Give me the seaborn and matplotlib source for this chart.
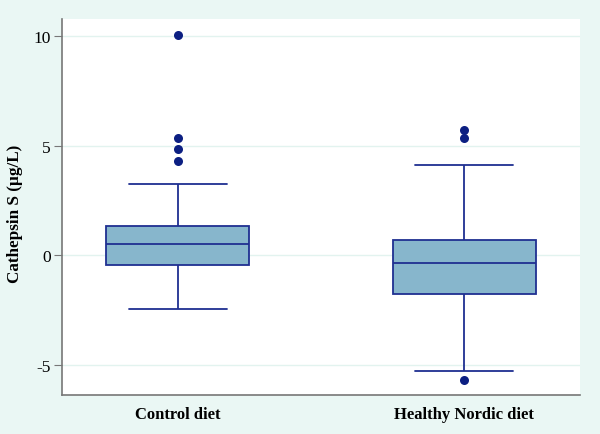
import matplotlib
matplotlib.use("Agg")
import matplotlib.pyplot as plt
import seaborn as sns
import pandas as pd

# five-number summaries (whisker low, Q1, median, Q3, whisker high)
groups = ["Control diet", "Healthy Nordic diet"]
control_box = [-2.47, -0.45, 0.49, 1.34, 3.24]
nordic_box = [-5.30, -1.78, -0.38, 0.68, 4.13]
# points beyond the whiskers
control_out = [4.28, 4.83, 5.34, 10.05]
nordic_out = [5.37, 5.72, -5.69]

yticks = [-5, 0, 5, 10]

box_df = pd.DataFrame({
    "group": [groups[0]] * len(control_box) + [groups[1]] * len(nordic_box),
    "value": control_box + nordic_box,
})
out_df = pd.DataFrame({
    "group": [groups[0]] * len(control_out) + [groups[1]] * len(nordic_out),
    "value": control_out + nordic_out,
})

sns.set_style("white")
plt.rcParams["font.family"] = ["Liberation Serif", "DejaVu Serif"]
plt.rcParams["text.color"] = "black"
plt.rcParams["axes.labelcolor"] = "black"
plt.rcParams["xtick.color"] = "black"
plt.rcParams["ytick.color"] = "black"

bg = "#eaf7f4"
navy = "#1f2f91"
fig, ax = plt.subplots(figsize=(6, 4.35), dpi=100)
fig.patch.set_facecolor(bg)
fig.subplots_adjust(left=0.103, right=0.967, bottom=0.09, top=0.954)

for t in yticks:
    ax.axhline(t, color="#e2f3ef", lw=1, zorder=0)

sns.boxplot(data=box_df, x="group", y="value", order=groups, whis=(0, 100),
            width=0.5, color="#87b6cc", saturation=1, linecolor=navy,
            linewidth=1.3, showfliers=False, capwidths=0.34, ax=ax)
sns.stripplot(data=out_df, x="group", y="value", order=groups, jitter=False,
              color="#0c1f82", size=6.5, ax=ax, zorder=5)

ax.set_xlim(-0.406, 1.406)
ax.set_ylim(-6.38, 10.78)
ax.set_yticks(yticks)
ax.set_yticklabels([str(t) for t in yticks], fontsize=12.5)
ax.set_xlabel("")
ax.set_ylabel("Cathepsin S (µg/L)", fontsize=12.3, fontweight="bold")
ax.yaxis.set_label_coords(-0.075, 0.485)
ax.set_xticks([0, 1])
ax.set_xticklabels(groups, fontsize=12, fontweight="bold")
ax.tick_params(axis="y", length=6, pad=2, color="#777777", direction="out", left=True)
ax.tick_params(axis="x", length=0, pad=8)

for side in ["top", "right"]:
    ax.spines[side].set_visible(False)
for side in ["left", "bottom"]:
    ax.spines[side].set_color("#777777")
    ax.spines[side].set_linewidth(1.2)

fig.savefig("out.png", dpi=100, facecolor=bg)
